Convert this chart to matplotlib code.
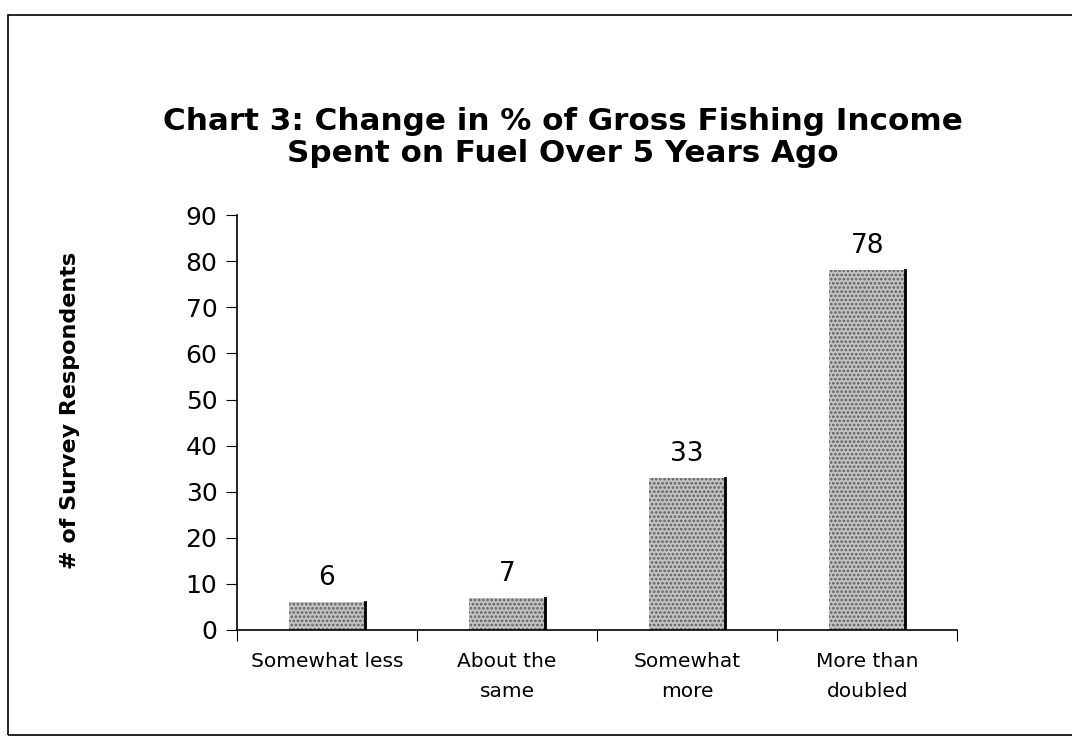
import matplotlib.pyplot as plt
from matplotlib.patches import Rectangle

# --- Daten ---
categories = ['Somewhat less', 'About the\nsame', 'Somewhat\nmore', 'More than\ndoubled']
respondents = [6, 7, 33, 78]
y_ticks = [0, 10, 20, 30, 40, 50, 60, 70, 80, 90]

plt.rcParams['font.family'] = ['DejaVu Sans']
plt.rcParams['hatch.linewidth'] = 1.3

fig = plt.figure(figsize=(10.72, 7.42), dpi=100)
ax = fig.add_axes([0.221, 0.151, 0.672, 0.559])

# Rahmen um das ganze Diagramm
fig.patches.append(Rectangle((0.007, 0.01), 1.5, 0.97, transform=fig.transFigure,
                             fill=False, edgecolor='black', linewidth=1.2))

x = list(range(len(categories)))
bars = ax.bar(x, respondents, width=0.42, color='#c4c4c4', hatch='....',
              edgecolor='#5e5e5e', linewidth=0)

# dunkle rechte Kante der Balken
for b in bars:
    xr = b.get_x() + b.get_width()
    ax.plot([xr, xr], [0, b.get_height()], color='black', linewidth=2)

for xi, v in zip(x, respondents):
    ax.annotate(str(v), (xi, v), xytext=(0, 8), textcoords='offset points',
                ha='center', va='bottom', fontsize=19)

ax.set_xlim(-0.5, len(categories) - 0.5)
ax.set_ylim(0, 90)
ax.set_yticks(y_ticks)
ax.tick_params(axis='y', labelsize=18, length=8, direction='out', pad=6)

ax.set_xticks([i - 0.5 for i in range(len(categories) + 1)], minor=False)
ax.set_xticklabels([''] * (len(categories) + 1))
ax.set_xticks(x, minor=True)
ax.set_xticklabels(categories, minor=True, fontsize=14.5, linespacing=1.7)
ax.tick_params(axis='x', which='major', length=8, direction='out')
ax.tick_params(axis='x', which='minor', length=0, pad=16)

ax.spines['top'].set_visible(False)
ax.spines['right'].set_visible(False)
ax.spines['left'].set_linewidth(1.2)
ax.spines['bottom'].set_linewidth(1.2)

ax.set_ylabel('# of Survey Respondents', fontsize=16, fontweight='bold')
ax.yaxis.set_label_coords(-0.218, 0.53)

fig.text(0.525, 0.815, 'Chart 3: Change in % of Gross Fishing Income\nSpent on Fuel Over 5 Years Ago',
         ha='center', va='center', fontsize=22.3, fontweight='bold', linespacing=1.15)

fig.savefig('out.png', dpi=100)
